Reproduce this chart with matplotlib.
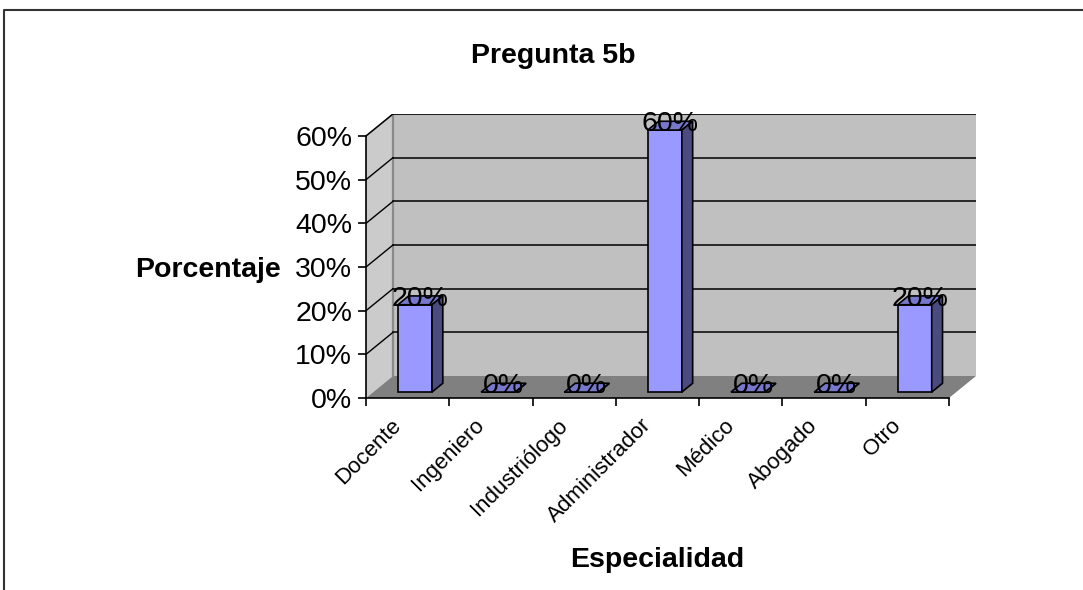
import matplotlib
matplotlib.use("Agg")
import matplotlib.pyplot as plt
import matplotlib.transforms as mtransforms
from matplotlib.patches import Polygon
from matplotlib.lines import Line2D
import numpy as np

plt.rcParams['font.family'] = ['Liberation Sans', 'DejaVu Sans']

categories = ['Docente', 'Ingeniero', 'Industriólogo', 'Administrador',
              'Médico', 'Abogado', 'Otro']
valores = [20, 0, 0, 60, 0, 0, 20]
yticks = [0, 10, 20, 30, 40, 50, 60]

W, H = 1083, 590
fig = plt.figure(figsize=(W / 100, H / 100), dpi=100)

# pseudo-3d layout in pixels
x0, y0 = 366, 398          # front corner of the plot (0, 0%)
px_cat = (949 - 366) / 7   # pixels per category
px_pct = (398 - 136) / 60  # pixels per percent
DX = 27 / px_cat           # depth shift, in category units
DY = 22 / px_pct           # depth shift, in percent units
f0, f1 = 0.27, 0.67        # depth slice occupied by the bars
hw = 0.205                 # half bar width

n = len(categories)
xmax, ymax = n + DX, yticks[-1] + DY
ax = fig.add_axes([x0 / W, 1 - y0 / H, xmax * px_cat / W, ymax * px_pct / H])
ax.set_xlim(0, xmax)
ax.set_ylim(0, ymax)
ax.patch.set_visible(False)

# walls and floor
back = Polygon([(DX, DY), (xmax, DY), (xmax, ymax), (DX, ymax)],
               facecolor='#c0c0c0', edgecolor='none', zorder=1)
side = Polygon([(0, 0), (DX, DY), (DX, ymax), (0, yticks[-1])],
               facecolor='#cbcbcb', edgecolor='none', zorder=1)
floor = Polygon([(0, 0), (n, 0), (xmax, DY), (DX, DY)],
                facecolor='#808080', edgecolor='none', zorder=1.5)
for p in (back, side, floor):
    ax.add_patch(p)
ax.plot([DX, DX, xmax], [DY, ymax, ymax], color='#8a8a8a', lw=1.6, zorder=2)
ax.plot([0, DX], [yticks[-1], ymax], color='#8a8a8a', lw=1.2, zorder=2)

# gridlines on the back wall plus their diagonal on the side wall
for t in yticks[1:]:
    ax.plot([DX, xmax], [t + DY, t + DY], color='black', lw=1.1, zorder=2)
    ax.plot([0, DX], [t, t + DY], color='black', lw=1.0, zorder=2)

front_c, top_c, side_c = '#9999ff', '#7777cc', '#4b4b80'
for i, v in enumerate(valores):
    c = i + 0.5
    xl, xr = c - hw, c + hw
    fr = Polygon([(xl + f0 * DX, f0 * DY), (xr + f0 * DX, f0 * DY),
                  (xr + f0 * DX, v + f0 * DY), (xl + f0 * DX, v + f0 * DY)],
                 facecolor=front_c, edgecolor='black', lw=1.2, zorder=3)
    tp = Polygon([(xl + f0 * DX, v + f0 * DY), (xr + f0 * DX, v + f0 * DY),
                  (xr + f1 * DX, v + f1 * DY), (xl + f1 * DX, v + f1 * DY)],
                 facecolor=top_c, edgecolor='black', lw=1.2, zorder=3)
    sd = Polygon([(xr + f0 * DX, f0 * DY), (xr + f1 * DX, f1 * DY),
                  (xr + f1 * DX, v + f1 * DY), (xr + f0 * DX, v + f0 * DY)],
                 facecolor=side_c, edgecolor='black', lw=1.2, zorder=3)
    for p in (fr, tp, sd):
        ax.add_patch(p)
    ax.text(c + (f0 + f1) / 2 * DX, v + f1 * DY - 0.6, f'{v}%', ha='center',
            va='center', fontsize=20.5, zorder=4)

# axes lines and ticks
for s in ('top', 'right'):
    ax.spines[s].set_visible(False)
ax.spines['left'].set_bounds(0, yticks[-1])
ax.spines['bottom'].set_bounds(0, n)
for s in ('left', 'bottom'):
    ax.spines[s].set_linewidth(1.2)
    ax.spines[s].set_zorder(5)
ax.set_yticks(yticks)
ax.set_yticklabels([f'{t}%' for t in yticks], fontsize=20.5)
ax.set_xticks(np.arange(n + 1))
ax.set_xticklabels([])
ax.tick_params(axis='both', direction='out', length=6, width=1.2, pad=4)

off = mtransforms.ScaledTranslation(-17 / 100, -17 / 100, fig.dpi_scale_trans)
for i, name in enumerate(categories):
    ax.text(i + 0.5, 0, name, rotation=45, rotation_mode='anchor',
            ha='right', va='top', fontsize=16,
            transform=ax.transData + off)

fig.text(553 / W, 1 - 63 / H, 'Pregunta 5b', ha='center', va='baseline',
         fontsize=20.5, fontweight='bold')
fig.text(208 / W, 1 - 277 / H, 'Porcentaje', ha='center', va='baseline',
         fontsize=20.5, fontweight='bold')
fig.text(657 / W, 1 - 567 / H, 'Especialidad', ha='center', va='baseline',
         fontsize=20.5, fontweight='bold')

# outer chart frame (top and left edges visible)
fig.add_artist(Line2D([4 / W, 4 / W, 1], [0, 1 - 10 / H, 1 - 10 / H],
                      transform=fig.transFigure, color='#333333', lw=1.5))

fig.savefig('out.png', dpi=100)
